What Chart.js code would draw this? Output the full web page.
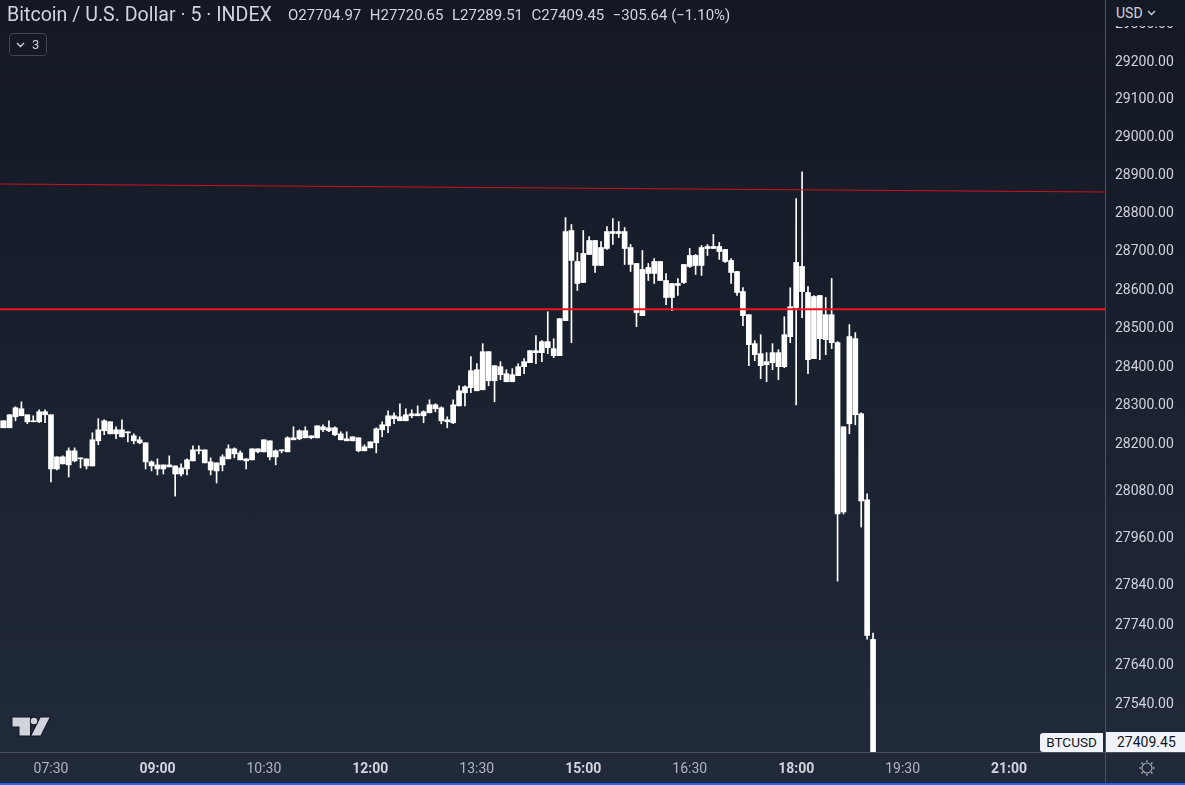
<!DOCTYPE html>
<html>
<head>
<meta charset="utf-8">
<title>BTCUSD 5</title>
<script src="https://cdn.jsdelivr.net/npm/chart.js@4.4.1/dist/chart.umd.min.js"></script>
<style>
  html, body { margin: 0; padding: 0; overflow: hidden; background: #161c28; }
  #wrap { position: relative; width: 1185px; height: 785px; font-family: Roboto, sans-serif;
          background: linear-gradient(#131823, #212a3b); }
  #wrap canvas { position: absolute; left: 0; top: 0; }
  .title { position: absolute; left: 7px; top: 3px; font-size: 19.6px; color: #d1d4dc; white-space: nowrap; }
  .ohlc { position: absolute; left: 288px; top: 6px; font-size: 15px; color: #d1d4dc; white-space: nowrap; }
  .ohlc span { margin-right: 8.5px; }
  .fold { position: absolute; left: 9px; top: 33px; width: 36px; height: 21px; border: 1px solid #434651;
          border-radius: 4px; color: #d1d4dc; font-size: 13px; line-height: 21px; }
  .fold svg { position: absolute; left: 6px; top: 8px; }
  .fold b { position: absolute; left: 22px; top: 0; font-weight: normal; }
  .usd { position: absolute; left: 1106px; top: 0; width: 79px; height: 26px; background: #141a25;
         color: #d1d4dc; font-size: 14px; }
  .usd span { position: absolute; left: 10px; top: 5px; }
  .usd svg { position: absolute; left: 41px; top: 10px; }
  .sym { position: absolute; left: 1040px; top: 733px; width: 63px; height: 19px; background: #f0f3fa;
         color: #131722; border-radius: 3px 0 0 3px; font-size: 13.5px; text-align: center; line-height: 19px; }
  .last { position: absolute; left: 1106px; top: 732px; width: 79px; height: 20px; background: #f0f3fa;
          color: #131722; font-size: 14px; line-height: 20px; padding-left: 11px; box-sizing: border-box; }
</style>
</head>
<body>
<div id="wrap">
  <canvas id="btc-chart" width="1185" height="785"></canvas>
  <div class="title">Bitcoin / U.S. Dollar · 5 · INDEX</div>
  <div class="ohlc"><span>O27704.97</span><span>H27720.65</span><span>L27289.51</span><span>C27409.45</span><span>−305.64 (−1.10%)</span></div>
  <div class="fold"><svg width="9" height="6"><path d="M1 1 L4.5 4.5 L8 1" stroke="#d1d4dc" stroke-width="1.3" fill="none"/></svg><b>3</b></div>
  <div class="usd"><span>USD</span><svg width="9" height="6"><path d="M1 1 L4.5 4.5 L8 1" stroke="#d1d4dc" stroke-width="1.3" fill="none"/></svg></div>
  <div class="sym">BTCUSD</div>
  <div class="last">27409.45</div>
</div>
<script>
// 5 minute candles, 06:45 .. 19:05
const times = [
  '06:45','06:50','06:55',
  '07:00','07:05','07:10','07:15','07:20','07:25','07:30','07:35','07:40','07:45','07:50','07:55',
  '08:00','08:05','08:10','08:15','08:20','08:25','08:30','08:35','08:40','08:45','08:50','08:55',
  '09:00','09:05','09:10','09:15','09:20','09:25','09:30','09:35','09:40','09:45','09:50','09:55',
  '10:00','10:05','10:10','10:15','10:20','10:25','10:30','10:35','10:40','10:45','10:50','10:55',
  '11:00','11:05','11:10','11:15','11:20','11:25','11:30','11:35','11:40','11:45','11:50','11:55',
  '12:00','12:05','12:10','12:15','12:20','12:25','12:30','12:35','12:40','12:45','12:50','12:55',
  '13:00','13:05','13:10','13:15','13:20','13:25','13:30','13:35','13:40','13:45','13:50','13:55',
  '14:00','14:05','14:10','14:15','14:20','14:25','14:30','14:35','14:40','14:45','14:50','14:55',
  '15:00','15:05','15:10','15:15','15:20','15:25','15:30','15:35','15:40','15:45','15:50','15:55',
  '16:00','16:05','16:10','16:15','16:20','16:25','16:30','16:35','16:40','16:45','16:50','16:55',
  '17:00','17:05','17:10','17:15','17:20','17:25','17:30','17:35','17:40','17:45','17:50','17:55',
  '18:00','18:05','18:10','18:15','18:20','18:25','18:30','18:35','18:40','18:45','18:50','18:55',
  '19:00','19:05'
];

const opens = [
  28243.8, 28261.8, 28243.8,
  28272.1, 28292.7, 28277.3, 28259.2, 28259.2, 28285, 28277.3, 28138.2, 28169.1, 28148.5, 28184.6, 28164,
  28164, 28145.9, 28210.3, 28236.1, 28259.2, 28228.3, 28238.6, 28230.9, 28223.2, 28212.9, 28205.2, 28156.2,
  28148.5, 28138.2, 28148.5, 28145.9, 28125.3, 28138.2, 28158.8, 28184.6, 28187.1, 28156.2, 28133.1, 28148.5,
  28164, 28189.7, 28179.4, 28164, 28161.4, 28189.7, 28182, 28210.3, 28169.1, 28184.6, 28182, 28218,
  28215.5, 28236.1, 28223.2, 28218, 28246.4, 28236.1, 28243.8, 28228.3, 28215.5, 28210.3, 28218, 28184.6,
  28192.3, 28205.2, 28238.6, 28248.9, 28274.7, 28261.8, 28277.3, 28274.7, 28279.8, 28274.7, 28282.4, 28303,
  28295.3, 28259.2, 28256.7, 28300.2, 28333.9, 28346.9, 28393.5, 28341.7, 28440.2, 28365, 28401.3, 28383.2,
  28362.4, 28378, 28401.3, 28411.7, 28442.8, 28437.6, 28466.1, 28447.9, 28429.8, 28520.7, 28755.5, 28674.6,
  28619.8, 28692.9, 28729.4, 28664.2, 28708.5, 28752.9, 28747.7, 28752.9, 28711.1, 28669.4, 28533.7, 28659,
  28643.3, 28674.6, 28625, 28580.7, 28617.2, 28619.8, 28661.6, 28690.3, 28664.2, 28713.8, 28708.5, 28713.8,
  28705.9, 28677.2, 28648.5, 28596.3, 28536, 28460.9, 28435, 28406.5, 28411.7, 28437.6, 28401.3, 28479,
  28554.6, 28661.6, 28593.7, 28422, 28585.9, 28471.3, 28536, 28463.5, 28028.1, 28254.1, 28474, 28279.8,
  28058.9, 27704.97
];

const highs = [
  28261.8, 28261.8, 28277.3,
  28297.9, 28310.7, 28277.3, 28274.7, 28290.1, 28290.1, 28277.3, 28169.1, 28171.7, 28192.3, 28192.3, 28166.5,
  28164, 28230.9, 28267, 28264.4, 28259.2, 28246.4, 28264.4, 28233.5, 28228.3, 28220.6, 28205.2, 28158.8,
  28164, 28148.5, 28171.7, 28145.9, 28151.1, 28164, 28197.4, 28197.4, 28187.1, 28166.5, 28153.7, 28174.3,
  28200, 28192.3, 28184.6, 28164, 28189.7, 28189.7, 28212.9, 28210.3, 28187.1, 28187.1, 28220.6, 28246.4,
  28238.6, 28246.4, 28223.2, 28248.9, 28251.5, 28261.8, 28246.4, 28233.5, 28233.5, 28220.6, 28218, 28200,
  28207.7, 28243.8, 28259.2, 28287.6, 28282.4, 28305.6, 28292.7, 28290.1, 28300.4, 28287.6, 28315.9, 28305.6,
  28297.9, 28272.1, 28315.9, 28352.1, 28352.1, 28427.2, 28409.1, 28460.9, 28440.2, 28403.9, 28414.3, 28393.5,
  28396.1, 28409.1, 28422, 28442.8, 28481.6, 28468.7, 28543.8, 28473.8, 28525.7, 28789.4, 28771.2, 28698.1,
  28755.5, 28739.8, 28729.4, 28726.8, 28765.9, 28786.8, 28779, 28763.3, 28719, 28669.4, 28703.3, 28669.4,
  28682.4, 28674.6, 28643.3, 28617.2, 28630.3, 28666.8, 28708.5, 28692.9, 28716.4, 28719, 28745.1, 28724.2,
  28705.9, 28682.4, 28648.5, 28606.8, 28536, 28468.7, 28484.2, 28437.6, 28460.9, 28445.3, 28530.8, 28606,
  28839, 28909.4, 28609.4, 28585.9, 28585.9, 28580.7, 28630.3, 28466.3, 28246.3, 28510.4, 28489.6, 28282.4,
  28074.2, 27720.65
];

const lows = [
  28243.8, 28243.8, 28243.8,
  28261.8, 28274.7, 28254.1, 28259.2, 28256.7, 28256.7, 28104.7, 28135.6, 28151.1, 28117.6, 28156.2, 28140.8,
  28138.2, 28145.9, 28200, 28225.8, 28228.3, 28215.5, 28220.6, 28207.7, 28202.6, 28202.6, 28138.2, 28133.1,
  28122.8, 28125.3, 28143.4, 28068.7, 28120.2, 28122.8, 28158.8, 28176.8, 28153.7, 28122.8, 28102.2, 28133.1,
  28164, 28166.5, 28161.4, 28138.2, 28161.4, 28179.4, 28182, 28161.4, 28148.5, 28179.4, 28182, 28212.9,
  28212.9, 28218, 28215.5, 28218, 28233.5, 28233.5, 28223.2, 28212.9, 28210.3, 28210.3, 28182, 28184.6,
  28192.3, 28179.4, 28220.6, 28230.9, 28254.1, 28261.8, 28261.8, 28269.5, 28274.7, 28256.7, 28282.4, 28285,
  28254.1, 28243.8, 28254.1, 28300.2, 28300.2, 28333.9, 28339.1, 28341.7, 28352.1, 28310.6, 28367.6, 28362.4,
  28362.4, 28378, 28383.2, 28411.7, 28409.1, 28414.3, 28434.9, 28424.6, 28429.8, 28520.7, 28463.3, 28599,
  28619.8, 28692.9, 28645.9, 28664.2, 28705.9, 28719, 28737.2, 28666.8, 28648.5, 28505, 28533.7, 28625,
  28617.2, 28625, 28562.4, 28546.8, 28585.9, 28617.2, 28659, 28640.7, 28638.1, 28690.3, 28708.5, 28679.8,
  28672, 28617.2, 28585.9, 28507.6, 28403.9, 28416.8, 28370.2, 28362.4, 28393.5, 28367.6, 28398.7, 28463.5,
  28302.8, 28528.5, 28383.2, 28422, 28419.4, 28432.4, 28447.9, 27852.3, 28023, 28228.3, 28251.5, 27989.8,
  27705.3, 27289.51
];

const closes = [
  28261.8, 28243.8, 28277.3,
  28295.3, 28274.7, 28259.2, 28259.2, 28285, 28277.3, 28138.2, 28169.1, 28151.1, 28184.6, 28158.8, 28164,
  28145.9, 28212.9, 28238.6, 28261.8, 28228.3, 28238.6, 28220.6, 28230.9, 28210.3, 28205.2, 28156.2, 28145.9,
  28138.2, 28148.5, 28143.4, 28125.3, 28140.8, 28161.4, 28187.1, 28184.6, 28153.7, 28135.6, 28153.7, 28169.1,
  28189.7, 28176.8, 28161.4, 28158.8, 28189.7, 28182, 28212.9, 28169.1, 28184.6, 28184.6, 28218, 28212.9,
  28236.1, 28218, 28218, 28248.9, 28238.6, 28243.8, 28225.8, 28212.9, 28210.3, 28220.6, 28184.6, 28194.9,
  28207.7, 28241.2, 28251.5, 28274.7, 28267, 28272.1, 28261.8, 28279.8, 28274.7, 28285, 28303, 28292.7,
  28261.8, 28264.4, 28303, 28339.1, 28349.5, 28390.9, 28339.1, 28440.2, 28365, 28403.9, 28380.6, 28362.4,
  28380.6, 28401.3, 28414.3, 28442.8, 28437.6, 28466.1, 28450.5, 28429.8, 28525.7, 28752.9, 28677.2, 28617.2,
  28695.5, 28729.4, 28664.2, 28711.1, 28752.9, 28747.7, 28752.9, 28708.5, 28666.8, 28541.6, 28653.8, 28643.3,
  28674.6, 28625, 28580.7, 28617.2, 28612, 28666.8, 28690.3, 28664.2, 28711.1, 28708.5, 28713.8, 28700.7,
  28674.6, 28645.9, 28593.7, 28533.7, 28458.3, 28432.4, 28403.9, 28414.3, 28437.6, 28401.3, 28484.2, 28556.8,
  28672, 28596.3, 28419.4, 28583.3, 28473.8, 28536, 28463.5, 28023, 28246.3, 28479.2, 28277.3, 28056.3,
  27715.09, 27409.45
];

// drawn lines: a falling trend line and a flat level
const trendTimes = ['06:00', '23:00'];
const trendPrices = [28878.6, 28855.6];
const levelTimes = ['06:00', '23:00'];
const levelPrices = [28550, 28550];

// axis ticks
const priceTicks = [29300, 29200, 29100, 29000, 28900, 28800, 28700, 28600, 28500, 28400,
                    28300, 28200, 28080, 27960, 27840, 27740, 27640, 27540];
const timeTicks = ['07:30', '09:00', '10:30', '12:00', '13:30', '15:00', '16:30', '18:00', '19:30', '21:00'];

const toMin = s => { const p = s.split(':'); return +p[0] * 60 + +p[1]; };
const fmt = v => String(Math.floor(v / 60)).padStart(2, '0') + ':' + String(v % 60).padStart(2, '0');

const bodies = times.map((t, i) => ({ x: toMin(t), y: [opens[i], closes[i]] }));
const wicks = times.map((t, i) => ({ x: toMin(t), y: [lows[i], highs[i]] }));
const trend = trendTimes.map((t, i) => ({ x: toMin(t), y: trendPrices[i] }));
const level = levelTimes.map((t, i) => ({ x: toMin(t), y: levelPrices[i] }));

// keep the plot flush with the canvas edges
const noPad = s => { s.paddingTop = 0; s.paddingBottom = 0; s.paddingLeft = 0; s.paddingRight = 0; };

// logo, separators and settings icon
const decor = {
  id: 'decor',
  afterDraw(chart) {
    const c = chart.ctx;
    c.save();
    c.fillStyle = '#4c525e';
    c.fillRect(1105, 0, 1, 785);
    c.fillRect(0, 752, 1185, 1);
    c.fillStyle = '#2962ff';
    c.fillRect(0, 783, 1185, 2);

    c.fillStyle = '#d1d4dc';
    c.strokeStyle = '#131722';
    c.lineWidth = 2;
    c.beginPath();
    c.moveTo(12.5, 717.5); c.lineTo(30, 717.5); c.lineTo(30, 735.5); c.lineTo(19.5, 735.5);
    c.lineTo(19.5, 726.5); c.lineTo(12.5, 726.5); c.closePath();
    c.moveTo(40.5, 717.5); c.lineTo(49.5, 717.5); c.lineTo(40.5, 735.5); c.lineTo(31.5, 735.5); c.closePath();
    c.stroke(); c.fill();
    c.beginPath(); c.arc(34, 721, 3.3, 0, Math.PI * 2); c.stroke(); c.fill();

    c.strokeStyle = '#a3a6af';
    c.lineWidth = 1.2;
    c.beginPath(); c.arc(1147, 768, 5, 0, Math.PI * 2); c.stroke();
    c.fillStyle = '#a3a6af';
    for (let k = 0; k < 8; k++) {
      const a = k * Math.PI / 4;
      c.fillRect(1147 + Math.cos(a) * 6.8 - 0.8, 768 + Math.sin(a) * 6.8 - 0.8, 1.6, 1.6);
    }
    c.restore();
  }
};

const ctx = document.getElementById('btc-chart');

new Chart(ctx, {
  type: 'bar',
  data: {
    datasets: [
      { type: 'line', data: trend, borderColor: 'rgba(214,18,28,0.95)', borderWidth: 1.2, pointRadius: 0, order: 0 },
      { type: 'line', data: level, borderColor: '#f7101c', borderWidth: 2, pointRadius: 0, order: 0 },
      { data: bodies, backgroundColor: '#ffffff', barThickness: 5, minBarLength: 1, grouped: false, borderWidth: 0, order: 1 },
      { data: wicks, backgroundColor: '#ffffff', barThickness: 1, grouped: false, borderWidth: 0, order: 2 }
    ]
  },
  options: {
    responsive: false,
    animation: false,
    layout: { padding: 0 },
    plugins: { legend: { display: false }, tooltip: { enabled: false } },
    scales: {
      x: {
        type: 'linear',
        min: 406.9,
        max: 1341.1,
        offset: false,
        grid: { display: false, drawTicks: false, offset: false },
        border: { display: false },
        afterFit: s => { s.height = 33; noPad(s); },
        afterBuildTicks: s => { s.ticks = timeTicks.map(t => ({ value: toMin(t) })); },
        ticks: {
          autoSkip: false,
          maxRotation: 0,
          padding: 9,
          color: c => (c.tick && c.tick.value % 180 === 0) ? '#d1d4dc' : '#b2b5be',
          font: c => ({ family: 'Roboto', size: 14, weight: (c.tick && c.tick.value % 180 === 0) ? 'bold' : 'normal' }),
          callback: v => fmt(v)
        }
      },
      y: {
        type: 'logarithmic',
        position: 'right',
        min: 27422.4,
        max: 29365.3,
        bounds: 'data',
        beginAtZero: false,
        grid: { display: false, drawTicks: false },
        border: { display: false },
        afterFit: s => { s.width = 80; noPad(s); },
        afterBuildTicks: s => { s.ticks = priceTicks.map(v => ({ value: v })); },
        ticks: {
          autoSkip: false,
          padding: 10,
          color: '#d1d4dc',
          font: { family: 'Roboto', size: 14 },
          callback: v => Number(v).toFixed(2)
        }
      }
    }
  },
  plugins: [decor]
});
</script>
</body>
</html>
